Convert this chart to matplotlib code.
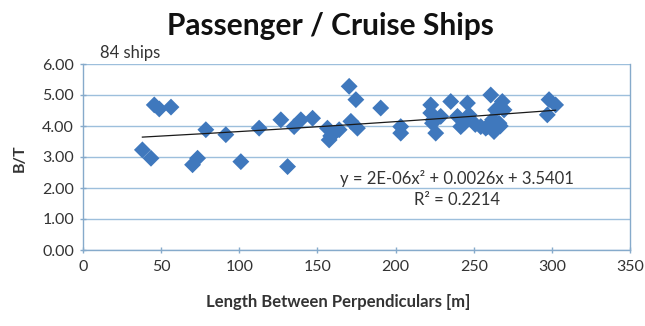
import numpy as np
import matplotlib
matplotlib.use("Agg")
import matplotlib.pyplot as plt

plt.rcParams['font.family'] = ['Lato', 'DejaVu Sans']

# Data (LBP [m], B/T)
lbp = [38, 43.5, 45.6, 48.8, 56.3, 70.1, 73.3, 78.6, 91.4, 101, 112.7, 126.6, 130.9,
       135.1, 139.4, 146.9, 156.4, 157.5, 160.7, 163.9, 170.3, 174.6, 171.4, 175.6,
       190.5, 203.3, 203.3, 222.5, 222.5, 223.6, 225.7, 228.9, 235.3, 239.6, 241.7,
       246, 247, 254.5, 257.7, 260.9, 268.3, 269.4, 264, 258.8, 263, 266.2, 262,
       298.2, 302.4, 297.1, 158.5, 224, 244, 251, 267]
bt = [3.23, 2.96, 4.68, 4.55, 4.61, 2.75, 2.96, 3.88, 3.72, 2.85, 3.93, 4.2, 2.69,
      3.98, 4.2, 4.25, 3.93, 3.55, 3.77, 3.88, 5.28, 4.85, 4.15, 3.93,
      4.58, 3.98, 3.77, 4.68, 4.42, 4.09, 3.77, 4.31, 4.79, 4.31, 3.98,
      4.74, 4.36, 3.98, 3.93, 5.0, 4.79, 4.52, 4.52, 3.98, 3.82, 4.09, 4.2,
      4.85, 4.68, 4.36, 3.68, 4.2, 4.1, 4.05, 4.0]

# Trendline coefficients shown on the chart
coef = [2e-6, 0.0026, 3.5401]
r2 = 0.2214

x_ticks = [0, 50, 100, 150, 200, 250, 300, 350]
y_ticks = [0, 1, 2, 3, 4, 5, 6]

axis_col = '#86aacb'
grid_col = '#9dbfdc'
text_col = '#333333'
marker_col = '#3f78bd'

fig = plt.figure(figsize=(6.45, 3.26), dpi=100)
ax = fig.add_axes([83/645, 1-250/326, (630-83)/645, (250-64)/326])

ax.set_xlim(0, 350)
ax.set_ylim(0, 6)
ax.set_xticks(x_ticks)
ax.set_yticks(y_ticks)
ax.set_yticklabels([f"{v:.2f}" for v in y_ticks])
ax.grid(axis='y', color=grid_col, linewidth=1.0)
ax.set_axisbelow(True)

for s in ['left', 'bottom', 'right']:
    ax.spines[s].set_color(axis_col)
    ax.spines[s].set_linewidth(1.0)
ax.spines['top'].set_visible(False)

ax.tick_params(axis='both', colors=axis_col, labelcolor=text_col, labelsize=11.5,
               length=5, width=1.0, direction='inout')
ax.tick_params(axis='x', pad=5)
ax.tick_params(axis='y', pad=4)

ax.scatter(lbp, bt, marker='D', s=74, color=marker_col, edgecolors='none', zorder=3)

xs = np.linspace(min(lbp), max(lbp), 200)
ax.plot(xs, np.polyval(coef, xs), color='#1a1a1a', linewidth=0.9, zorder=4)

ax.text(239, 2.32, "y = 2E-06x² + 0.0026x + 3.5401", ha='center', va='center',
        fontsize=12, color=text_col, zorder=5)
ax.text(239, 1.61, f"R² = {r2}", ha='center', va='center',
        fontsize=12, color=text_col, zorder=5)

fig.text(330/645, 1-26/326, "Passenger / Cruise Ships", ha='center', va='center',
         fontsize=21.5, fontweight='bold', color='#111111')
fig.text(100/645, 1-53/326, "84 ships", ha='left', va='center', fontsize=12,
         color=text_col)
fig.text(20/645, 1-158/326, "B/T", ha='center', va='center', rotation=90,
         fontsize=11.5, fontweight='bold', color=text_col)
fig.text(338/645, 1-302/326, "Length Between Perpendiculars [m]", ha='center',
         va='center', fontsize=12, fontweight='bold', color=text_col)

fig.savefig("out.png", dpi=100)
